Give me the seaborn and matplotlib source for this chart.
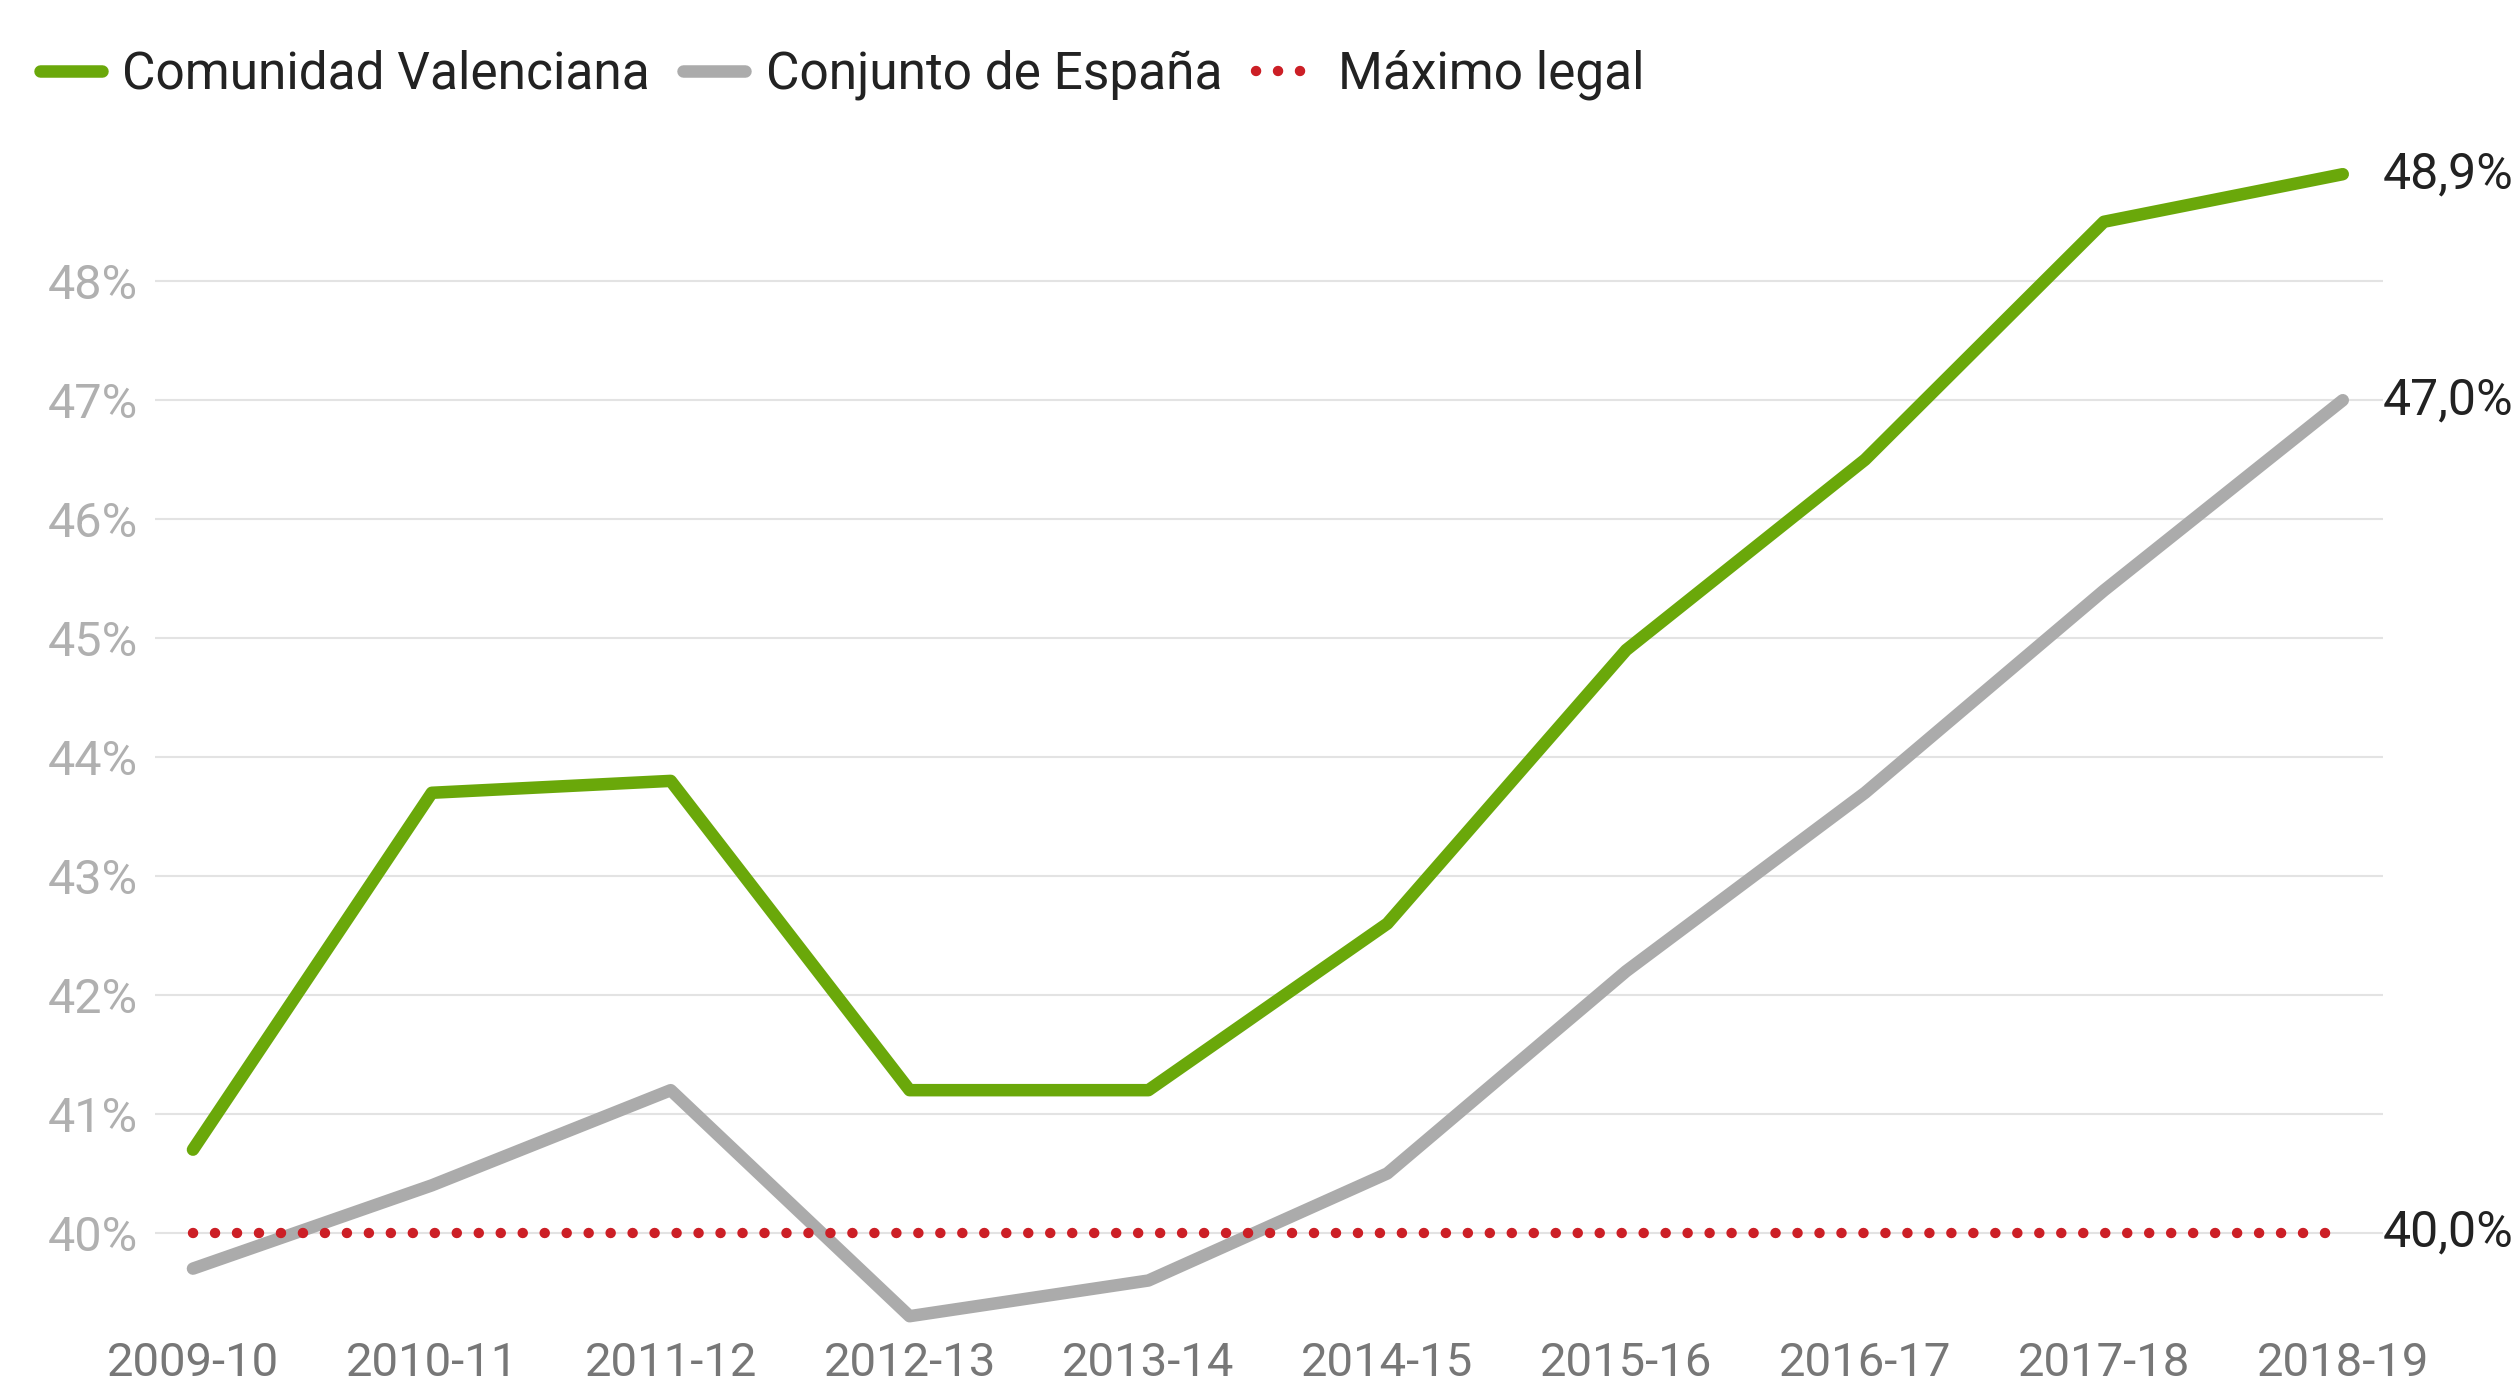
import numpy as np
import pandas as pd
import matplotlib.pyplot as plt
import seaborn as sns

# Data
cursos = ['2009-10', '2010-11', '2011-12', '2012-13', '2013-14',
          '2014-15', '2015-16', '2016-17', '2017-18', '2018-19']
valenciana = [40.7, 43.7, 43.8, 41.2, 41.2, 42.6, 44.9, 46.5, 48.5, 48.9]
espana = [39.7, 40.4, 41.2, 39.3, 39.6, 40.5, 42.2, 43.7, 45.4, 47.0]
maximo = [40.0] * len(cursos)

sns.set_theme(style='white')
plt.rcParams['font.family'] = ['Roboto', 'DejaVu Sans']

df = pd.DataFrame({'x': np.arange(len(cursos)), 'val': valenciana,
                   'esp': espana, 'max': maximo})

fig = plt.figure(figsize=(25.2, 13.85), dpi=100)
ax = fig.add_axes([0.0615, 0.0325, 0.884, 0.8675])

green = '#6aa80a'
grey = '#ababab'
red = '#cc1f26'

sns.lineplot(data=df, x='x', y='val', ax=ax, color=green, lw=9,
             solid_capstyle='round', label='Comunidad Valenciana', clip_on=False)
sns.lineplot(data=df, x='x', y='esp', ax=ax, color=grey, lw=9,
             solid_capstyle='round', label='Conjunto de España', clip_on=False)
sns.lineplot(data=df, x='x', y='max', ax=ax, color=red, lw=7.5,
             linestyle=(0, (0.01, 2.1)), dash_capstyle='round',
             label='Máximo legal', clip_on=False)

ax.set_xlim(-0.159, 9.167)
ax.set_ylim(39.1, 49.2)
ax.set_yticks(range(40, 49))
ax.set_yticklabels([f'{v}%' for v in range(40, 49)], color='#b0b0b0', fontsize=35)
ax.set_xticks(df['x'])
ax.set_xticklabels(cursos, color='#777777', fontsize=34)
ax.tick_params(axis='y', length=0, pad=12)
ax.tick_params(axis='x', length=0, pad=1)
ax.yaxis.grid(True, color='#e3e3e3', lw=1.5)
ax.xaxis.grid(False)
for s in ax.spines.values():
    s.set_visible(False)
ax.set_xlabel('')
ax.set_ylabel('')

# end labels
for serie in [valenciana, espana, maximo]:
    ax.text(1.0, serie[-1], f'{serie[-1]:.1f}%'.replace('.', ','),
            transform=ax.get_yaxis_transform(), ha='left', va='center',
            fontsize=36, color='#222222')

handles, labels = ax.get_legend_handles_labels()
ax.get_legend().remove()
leg = fig.legend(handles, labels, loc='center left',
                 bbox_to_anchor=(40 / 2520, 1 - 75 / 1385), ncol=3,
                 frameon=False, fontsize=37, handlelength=1.2,
                 handletextpad=0.4, columnspacing=0.65, borderaxespad=0,
                 borderpad=0)
for t in leg.get_texts():
    t.set_color('#222222')

fig.savefig('out.png', dpi=100)
